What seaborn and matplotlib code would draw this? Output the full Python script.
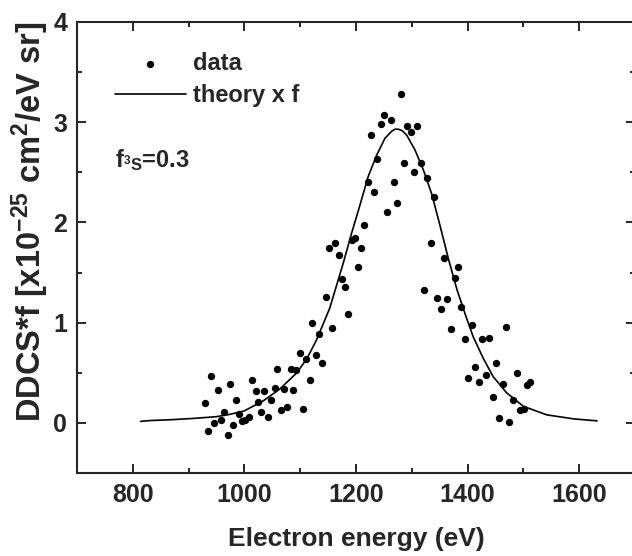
import numpy as np
import pandas as pd
import matplotlib
matplotlib.use('Agg')
import matplotlib.pyplot as plt
from matplotlib.ticker import MultipleLocator
import seaborn as sns

energy = [929, 935, 941, 946, 952, 958, 964, 970, 975, 980,
          985, 991, 996, 1002, 1008, 1014, 1020, 1025, 1030, 1036,
          1042, 1048, 1054, 1059, 1065, 1071, 1077, 1083, 1088, 1093,
          1099, 1105, 1111, 1117, 1122, 1128, 1134, 1140, 1146, 1151,
          1157, 1163, 1169, 1175, 1180, 1186, 1192, 1198, 1204, 1209,
          1215, 1221, 1227, 1233, 1238, 1244, 1250, 1256, 1262, 1268,
          1274, 1280, 1286, 1292, 1299, 1304, 1310, 1316, 1322, 1328,
          1334, 1340, 1346, 1352, 1358, 1364, 1370, 1377, 1383, 1389,
          1395, 1401, 1408, 1414, 1420, 1426, 1433, 1438, 1445, 1451,
          1457, 1463, 1469, 1475, 1482, 1488, 1494, 1501, 1506, 1512]
ddcs = [0.20, -0.085, 0.47, 0.00, 0.325, 0.025, 0.11, -0.12, 0.39, -0.02,
        0.225, 0.085, 0.02, 0.03, 0.055, 0.43, 0.315, 0.21, 0.11, 0.32,
        0.055, 0.225, 0.345, 0.535, 0.125, 0.335, 0.155, 0.535, 0.325, 0.525,
        0.70, 0.14, 0.64, 0.43, 1.00, 0.675, 0.89, 0.595, 1.255, 1.745,
        0.95, 1.79, 1.675, 1.44, 1.36, 1.09, 1.82, 1.84, 1.56, 1.745,
        1.975, 2.405, 2.87, 2.30, 2.635, 2.98, 3.075, 2.10, 3.02, 2.405,
        2.19, 3.28, 2.59, 2.96, 2.90, 2.50, 2.965, 2.59, 1.33, 2.445,
        1.795, 2.25, 1.245, 1.14, 1.645, 1.235, 0.94, 1.445, 1.555, 1.155,
        0.84, 0.45, 0.98, 0.56, 0.41, 0.84, 0.475, 0.85, 0.255, 0.60,
        0.045, 0.39, 0.96, 0.007, 0.23, 0.50, 0.127, 0.14, 0.375, 0.41]

# theory curve
theory_e = [814, 830, 870, 910, 950, 974, 1000, 1034, 1064, 1094, 1112, 1129.5,
            1153, 1177, 1192, 1207, 1222, 1237, 1252, 1264, 1270, 1276, 1283, 1291, 1306,
            1321, 1336, 1351, 1366, 1381, 1396, 1410, 1428, 1446, 1470, 1500,
            1542, 1590, 1632]
theory_v = [0.015, 0.023, 0.032, 0.045, 0.062, 0.085, 0.12, 0.22, 0.34, 0.50, 0.64, 0.83,
            1.145, 1.59, 1.89, 2.17, 2.46, 2.67, 2.84, 2.91, 2.93, 2.93, 2.915, 2.87, 2.72,
            2.52, 2.28, 1.96, 1.63, 1.33, 1.08, 0.86, 0.645, 0.46, 0.30, 0.165,
            0.08, 0.04, 0.02]

df_data = pd.DataFrame({'E': energy, 'y': ddcs})
df_theory = pd.DataFrame({'E': theory_e, 'y': theory_v})

sns.set_style('ticks')
plt.rcParams['font.family'] = ['Liberation Sans', 'DejaVu Sans']
plt.rcParams['font.weight'] = 'bold'
plt.rcParams['mathtext.fontset'] = 'custom'
plt.rcParams['mathtext.bf'] = 'Liberation Sans:bold'
plt.rcParams['mathtext.rm'] = 'Liberation Sans:bold'
plt.rcParams['mathtext.it'] = 'Liberation Sans:bold'
plt.rcParams['mathtext.default'] = 'bf'

fig = plt.figure(figsize=(6.32, 5.56), dpi=100)
ax = fig.add_axes([0.1218, 0.1493, 0.8829, 0.8112])

sns.scatterplot(data=df_data, x='E', y='y', ax=ax, color='black', s=28,
                linewidth=0, label='data')
sns.lineplot(data=df_theory, x='E', y='y', ax=ax, color='black', lw=1.2,
             sort=False, estimator=None, label='theory x f')

ax.set_xlim(700, 1700)
ax.set_ylim(-0.5, 4)
ax.xaxis.set_major_locator(MultipleLocator(200))
ax.xaxis.set_minor_locator(MultipleLocator(100))
ax.yaxis.set_major_locator(MultipleLocator(1))
ax.yaxis.set_minor_locator(MultipleLocator(0.5))
ax.tick_params(which='both', direction='in', top=True, right=True, width=1.4,
               labelsize=18, pad=7)
ax.tick_params(which='major', length=6.5)
ax.tick_params(which='minor', length=3.5)
for sp in ax.spines.values():
    sp.set_linewidth(1.5)

ax.set_xlabel('Electron energy (eV)', fontsize=19, fontweight='bold')
ax.set_ylabel(r'DDCS*f [x10$^{-25}$ cm$^{2}$/eV sr]', fontsize=23.5, fontweight='bold')
ax.xaxis.set_label_coords(0.5, -0.12)
ax.yaxis.set_label_coords(-0.047, 0.558)

ax.text(769, 2.555, r'f$_{{}^{3}S}$=0.3', fontsize=17, fontweight='bold', va='baseline')

ax.legend(loc='upper left', bbox_to_anchor=(0.068, 0.934), frameon=False,
          fontsize=17, handlelength=3.0, handletextpad=0.3, labelspacing=0.4,
          borderpad=0, borderaxespad=0)

fig.savefig('out.png', dpi=100)
